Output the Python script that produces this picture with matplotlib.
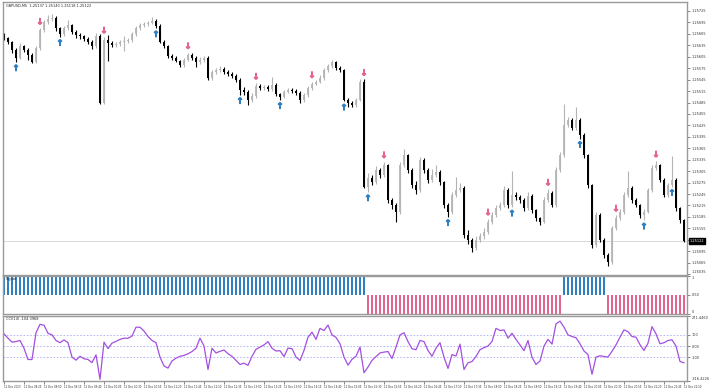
import numpy as np
import matplotlib
matplotlib.use("Agg")
import matplotlib.pyplot as plt
import matplotlib.transforms as mtransforms
import matplotlib.patheffects as pe

# GBPUSD M5 candles, prices in points above 1.25000
open_first = 660
close_pts = [654, 644, 623, 602, 633, 623, 610, 591, 628, 675,
             696, 704, 707, 680, 665, 680, 688, 670, 662, 659,
             652, 644, 633, 659, 484, 649, 641, 636, 638, 644,
             646, 649, 665, 680, 688, 691, 694, 699, 686, 644,
             633, 607, 602, 594, 583, 597, 610, 602, 591, 597,
             602, 549, 565, 570, 573, 565, 560, 555, 544, 518,
             513, 492, 502, 528, 523, 526, 520, 531, 507, 500,
             513, 518, 515, 510, 492, 505, 523, 534, 539, 549,
             570, 581, 591, 576, 570, 492, 484, 479, 492, 539,
             264, 287, 277, 308, 295, 321, 229, 216, 198, 321,
             347, 308, 269, 256, 334, 308, 282, 295, 303, 277,
             216, 198, 243, 256, 261, 138, 125, 104, 125, 135,
             146, 172, 190, 208, 216, 256, 216, 243, 237, 229,
             208, 240, 203, 182, 172, 229, 248, 216, 308, 347,
             426, 439, 418, 439, 400, 347, 269, 111, 190, 125,
             85, 67, 156, 182, 198, 243, 261, 229, 216, 190,
             198, 256, 313, 321, 282, 243, 269, 282, 208, 177,
             122]
high_pts = [668, 658, 647, 628, 640, 637, 628, 614, 632, 680,
            702, 715, 717, 712, 684, 686, 702, 692, 674, 667,
            663, 656, 648, 668, 665, 657, 661, 646, 645, 650,
            660, 655, 670, 685, 693, 697, 700, 708, 703, 690,
            648, 636, 612, 606, 597, 602, 616, 614, 606, 604,
            608, 606, 570, 576, 580, 577, 569, 564, 559, 548,
            525, 517, 510, 536, 533, 531, 530, 553, 535, 510,
            518, 523, 522, 520, 514, 510, 528, 540, 545, 556,
            575, 587, 596, 594, 580, 573, 497, 490, 498, 546,
            546, 300, 295, 318, 312, 330, 325, 234, 222, 330,
            362, 350, 312, 280, 342, 340, 312, 310, 320, 307,
            280, 222, 250, 290, 275, 265, 150, 130, 135, 142,
            155, 180, 198, 215, 225, 265, 260, 305, 250, 242,
            234, 250, 244, 207, 186, 236, 258, 252, 315, 356,
            480, 446, 444, 472, 444, 404, 350, 272, 198, 194,
            130, 90, 162, 190, 205, 250, 305, 265, 234, 220,
            205, 262, 320, 332, 325, 286, 275, 345, 286, 212,
            180]
low_pts = [648, 638, 615, 591, 598, 617, 597, 588, 588, 624,
           670, 690, 698, 672, 657, 660, 676, 665, 655, 652,
           646, 638, 626, 629, 480, 481, 593, 630, 630, 634,
           620, 640, 645, 660, 676, 684, 686, 690, 680, 640,
           628, 603, 597, 590, 578, 579, 593, 597, 578, 586,
           592, 544, 545, 560, 566, 560, 555, 550, 538, 505,
           505, 479, 486, 498, 517, 518, 514, 516, 502, 492,
           496, 509, 510, 505, 484, 487, 500, 519, 530, 535,
           545, 566, 576, 571, 565, 488, 473, 472, 474, 488,
           260, 250, 268, 272, 288, 290, 222, 205, 172, 192,
           315, 300, 262, 245, 250, 300, 275, 276, 290, 270,
           208, 185, 193, 238, 250, 130, 115, 92, 98, 118,
           128, 140, 166, 184, 202, 210, 208, 210, 230, 222,
           200, 204, 196, 175, 165, 168, 224, 210, 212, 303,
           342, 420, 412, 414, 390, 340, 262, 104, 106, 118,
           78, 55, 62, 150, 176, 193, 238, 222, 210, 183,
           176, 194, 250, 308, 276, 236, 238, 264, 200, 170,
           118]

# arrow signals (candle index)
sell_arrows = [9, 25, 46, 63, 77, 90, 95, 121, 136, 153, 163]
buy_arrows = [3, 14, 38, 59, 69, 85, 91, 111, 127, 144, 160, 167]

# trend histogram, runs of (direction, bars)
signal_runs = [("up", 91), ("down", 49), ("up", 11), ("down", 20)]

cci = [110, 71, 35, 40, 50, -20, -122, -122, 120, 196,
       188, 115, 101, 50, 30, 55, 30, -100, -128, -93,
       -115, -122, -150, -80, -301, 35, -24, 26, 42, 60,
       71, 70, 90, 170, 170, 135, 86, 50, 30, -100,
       -180, -200, -135, -110, -93, -85, -70, -50, -20, 71,
       0, -212, -20, -63, -48, -36, -70, -93, -130, -167,
       -155, -175, -93, -30, -10, 10, 40, -20, -45, -42,
       -95, -19, -24, -100, -131, -40, 80, 125, 60, 160,
       140, 190, 101, 78, 20, -100, -173, -120, -93, -10,
       -242, -190, -130, -95, -63, -55, -50, -113, -10, 100,
       120, 40, -25, -33, 50, 40, -40, -93, -20, 30,
       -100, -203, -78, -90, 17, -212, -152, -140, -95, -33,
       -15, 0, 41, 160, 140, 146, 71, 115, 60, 10,
       -42, 50, -102, -167, -135, 0, 60, 17, 200, 225,
       170, 101, 86, 75, 20, -45, -78, -256, -100, -88,
       -95, -100, -48, 10, 80, 146, 130, 86, 80, 12,
       -40, 26, 175, 110, 20, 30, 50, 56, 0, -140,
       -152]

price_ticks = [1.25725, 1.25695, 1.25665, 1.25635, 1.25605, 1.25575, 1.25545, 1.25515,
               1.25485, 1.25455, 1.25425, 1.25395, 1.25365, 1.25335, 1.25305, 1.25275,
               1.25245, 1.25215, 1.25185, 1.25155, 1.25125, 1.25095, 1.25065, 1.25035]
time_labels = ["12 Dec 2023", "12 Dec 08:25", "12 Dec 08:50", "12 Dec 09:15", "12 Dec 09:40",
               "12 Dec 10:05", "12 Dec 10:30", "12 Dec 10:55", "12 Dec 11:20", "12 Dec 11:45",
               "12 Dec 12:10", "12 Dec 12:35", "12 Dec 13:00", "12 Dec 13:25", "12 Dec 13:50",
               "12 Dec 14:15", "12 Dec 14:40", "12 Dec 15:05", "12 Dec 15:30", "12 Dec 15:55",
               "12 Dec 16:20", "12 Dec 16:45", "12 Dec 17:10", "12 Dec 17:35", "12 Dec 18:00",
               "12 Dec 18:25", "12 Dec 18:50", "12 Dec 19:15", "12 Dec 19:40", "12 Dec 20:05",
               "12 Dec 20:30", "12 Dec 20:55", "12 Dec 21:20", "12 Dec 21:45", "12 Dec 22:10"]

# ---- prepare
c = 1.25 + np.array(close_pts) / 1e5
h = 1.25 + np.array(high_pts) / 1e5
l = 1.25 + np.array(low_pts) / 1e5
o = np.concatenate([[1.25 + open_first / 1e5], c[:-1]])
x = np.arange(len(c))
bull = c >= o

FS = 2.5
AX_COL = "#9a9a9a"
plt.rcParams["font.family"] = "DejaVu Sans"

fig = plt.figure(figsize=(7.2, 3.89), dpi=100)
fig.patch.set_facecolor("white")

def px_axes(top, bottom):
    return fig.add_axes([3 / 720, 1 - bottom / 389, 684 / 720, (bottom - top) / 389])

ax = px_axes(2, 274.5)
ax2 = px_axes(276, 314)
ax3 = px_axes(316, 381)

for a in (ax, ax2, ax3):
    a.set_xlim(-0.25, len(c) - 0.25)
    a.set_facecolor("white")
    for s in a.spines.values():
        s.set_color(AX_COL)
        s.set_linewidth(1.0)
    a.yaxis.tick_right()
    a.tick_params(axis="y", labelsize=FS, length=2, width=0.5, color="#555555",
                  pad=1.5, labelcolor="#333333")
    a.set_xticks([])

# ---- candles
ax.vlines(x[bull], l[bull], h[bull], color="#b4b4b4", lw=0.8)
ax.vlines(x[~bull], l[~bull], h[~bull], color="black", lw=0.8)
body = np.maximum(np.abs(c - o), 0.000012)
ax.bar(x[bull], body[bull], bottom=np.minimum(o, c)[bull], width=0.6, color="#bdbdbd", lw=0)
ax.bar(x[~bull], body[~bull], bottom=np.minimum(o, c)[~bull], width=0.6, color="black", lw=0)

for i in sell_arrows:
    col = "#e5648e"
    ax.annotate("\u2193", (x[i], h[i]), xytext=(0, 4.5), textcoords="offset points",
                ha="center", va="center", fontsize=6, fontweight="bold", color=col,
                path_effects=[pe.withStroke(linewidth=0.7, foreground=col)])
for i in buy_arrows:
    col = "#2f7fc0"
    ax.annotate("\u2191", (x[i], l[i]), xytext=(0, -4.5), textcoords="offset points",
                ha="center", va="center", fontsize=6, fontweight="bold", color=col,
                path_effects=[pe.withStroke(linewidth=0.7, foreground=col)])

ax.set_ylim(1.250340, 1.257486)
ax.set_yticks(price_ticks)
# the current-price box covers the 1.25125 label
ax.set_yticklabels(["" if abs(p - c[-1]) < 0.00012 else f"{p:.5f}" for p in price_ticks])
ax.get_yticklabels()[-1].set_va("bottom")
ax.axhline(c[-1], color="#d4d4d4", lw=0.6, zorder=0)
trans = mtransforms.blended_transform_factory(ax.transAxes, ax.transData)
ax.text(1.004, c[-1], f"{c[-1]:.5f}", transform=trans, fontsize=FS, color="white",
        va="center", ha="left",
        bbox=dict(boxstyle="square,pad=0.3", fc="black", ec="black"))
ax.text(0.004, 0.993, f"GBPUSD,M5  1.25137 1.25140 1.25118 {c[-1]:.5f}",
        transform=ax.transAxes, fontsize=FS, va="top", ha="left", color="#222222")

# ---- trend histogram
pos = 0
for direction, n in signal_runs:
    xs = np.arange(pos, pos + n)
    if direction == "up":
        ax2.bar(xs, 0.5, bottom=0.5, width=0.6, color="#2f80c2", lw=0)
    else:
        ax2.bar(xs, 0.5, bottom=0.0, width=0.6, color="#e1658f", lw=0)
    pos += n
ax2.set_ylim(0, 1)
ax2.set_yticks([1, 0.5, 0])
ax2.set_yticklabels(["1", "0.50", "0"])
ax2.get_yticklabels()[0].set_va("top")
ax2.get_yticklabels()[-1].set_va("bottom")
ax2.text(0.004, 0.97, "Signal", transform=ax2.transAxes, fontsize=FS, va="top", ha="left",
         color="#222222")

# ---- CCI
ax3.plot(x, cci, color="#a34fe0", lw=0.9)
for lev in (100, 0, -100):
    ax3.axhline(lev, color="#a9aef2", lw=0.6, ls=(0, (2, 2)), zorder=0)
ax3.set_ylim(-316.4226, 271.446)
ax3.set_yticks([271.446, 100, 0, -100, -316.4226])
ax3.set_yticklabels(["271.4460", "100", "0.00", "-100", "-316.4226"])
ax3.get_yticklabels()[0].set_va("top")
ax3.get_yticklabels()[-1].set_va("bottom")
ax3.text(0.004, 0.98, "CCI(14) -104.3968", transform=ax3.transAxes, fontsize=FS,
         va="top", ha="left", color="#222222")

ax3.set_xticks(np.arange(0, len(c), 5))
ax3.set_xticklabels(time_labels, ha="left")
ax3.tick_params(axis="x", labelsize=1.9, length=2, width=0.5, pad=1, color="#555555",
                labelcolor="#333333")

fig.savefig("out.png", dpi=100, facecolor="white")
